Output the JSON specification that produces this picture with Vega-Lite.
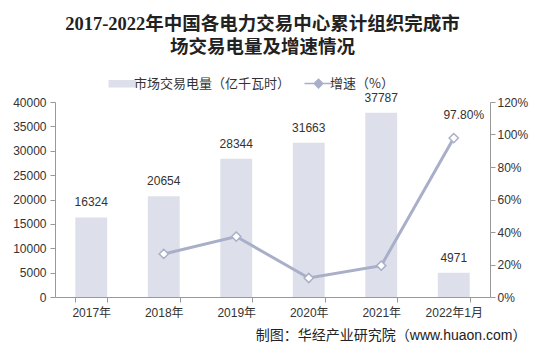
{
  "$schema": "https://vega.github.io/schema/vega-lite/v6.json",
  "width": 435,
  "height": 195,
  "autosize": "none",
  "padding": {"left": 55, "top": 102, "right": 46, "bottom": 57},
  "background": "white",
  "title": {
    "text": ["2017-2022年中国各电力交易中心累计组织完成市", "场交易电量及增速情况"],
    "font": "Liberation Serif, Noto Sans CJK SC",
    "fontSize": 18.5,
    "fontWeight": "bold",
    "color": "#222222",
    "lineHeight": 23,
    "anchor": "middle",
    "dx": -10,
    "offset": 21
  },
  "data": {
    "values": [
      {"year": "2017年", "volume": 16324, "growth": null, "glabel": ""},
      {"year": "2018年", "volume": 20654, "growth": 26.5, "glabel": ""},
      {"year": "2019年", "volume": 28344, "growth": 37.2, "glabel": ""},
      {"year": "2020年", "volume": 31663, "growth": 11.7, "glabel": ""},
      {"year": "2021年", "volume": 37787, "growth": 19.3, "glabel": ""},
      {"year": "2022年1月", "volume": 4971, "growth": 97.8, "glabel": "97.80%"}
    ]
  },
  "encoding": {
    "x": {
      "field": "year",
      "type": "nominal",
      "sort": null,
      "scale": {"paddingInner": 0.56, "paddingOuter": 0.28},
      "axis": {
        "title": "制图：华经产业研究院（www.huaon.com）",
        "titleFont": "Liberation Sans, Noto Sans CJK SC",
        "titleFontSize": 14,
        "titleFontWeight": "normal",
        "titleColor": "#222222",
        "titleAnchor": "end",
        "titleAlign": "right",
        "titleBaseline": "alphabetic",
        "titleX": 471,
        "titleY": 42,
        "labelAngle": 0,
        "labelFont": "Liberation Sans, Noto Sans CJK SC",
        "labelFontSize": 12,
        "labelColor": "#333333",
        "labelPadding": 5,
        "tickBand": "extent",
        "tickSize": 5,
        "tickColor": "#999999",
        "domainColor": "#999999"
      }
    }
  },
  "layer": [
    {
      "encoding": {
        "y": {
          "field": "volume",
          "type": "quantitative",
          "scale": {"domain": [0, 40000]},
          "axis": {
            "title": null,
            "orient": "left",
            "values": [0, 5000, 10000, 15000, 20000, 25000, 30000, 35000, 40000],
            "format": "d",
            "grid": false,
            "labelFont": "Liberation Sans",
            "labelFontSize": 12,
            "labelColor": "#333333",
            "labelPadding": 4,
            "tickSize": 5,
            "tickColor": "#999999",
            "domainColor": "#999999"
          }
        }
      },
      "layer": [
        {
          "mark": {"type": "bar"},
          "encoding": {
            "color": {
              "datum": "市场交易电量（亿千瓦时）",
              "type": "nominal",
              "scale": {
                "domain": ["市场交易电量（亿千瓦时）", "增速（%）"],
                "range": ["#DDE0EA", "#A9AFC8"]
              },
              "legend": {
                "title": null,
                "orient": "none",
                "direction": "horizontal",
                "legendX": 61,
                "legendY": -25,
                "padding": 0,
                "symbolSize": 784,
                "labelOffset": 5,
                "columnPadding": 10,
                "labelFont": "Noto Sans CJK SC",
                "labelFontSize": 13,
                "labelColor": "#333333",
                "symbolOpacity": 1,
                "encode": {
                  "symbols": {
                    "update": {
                      "shape": {"signal": "datum.value === '增速（%）' ? 'M-1,0H-0.3M0.3,0H1M0,-0.3L0.3,0L0,0.3L-0.3,0Z' : 'M-1,-0.27H1V0.27H-1Z'"},
                      "fill": {"signal": "datum.value === '增速（%）' ? '#ffffff' : '#DDE0EA'"},
                      "fillOpacity": {"value": 1},
                      "stroke": {"signal": "datum.value === '增速（%）' ? '#A9AFC8' : 'transparent'"},
                      "strokeWidth": {"signal": "datum.value === '增速（%）' ? 1.6 : 0"},
                      "opacity": {"value": 1}
                    }
                  }
                }
              }
            }
          }
        },
        {
          "mark": {
            "type": "text",
            "baseline": "alphabetic",
            "dy": -11,
            "font": "Liberation Sans",
            "fontSize": 12,
            "color": "#333333"
          },
          "encoding": {"text": {"field": "volume", "type": "quantitative", "format": "d"}}
        }
      ]
    },
    {
      "encoding": {
        "y": {
          "field": "growth",
          "type": "quantitative",
          "scale": {"domain": [0, 120]},
          "axis": {
            "title": null,
            "orient": "right",
            "values": [0, 20, 40, 60, 80, 100, 120],
            "labelExpr": "datum.value + '%'",
            "grid": false,
            "labelFont": "Liberation Sans",
            "labelFontSize": 12,
            "labelColor": "#333333",
            "labelPadding": 2,
            "tickSize": 5,
            "tickColor": "#999999",
            "domainColor": "#999999"
          }
        }
      },
      "layer": [
        {
          "mark": {"type": "line", "strokeWidth": 3},
          "encoding": {
            "color": {"datum": "增速（%）", "type": "nominal"}
          }
        },
        {
          "mark": {
            "type": "point",
            "shape": "diamond",
            "filled": true,
            "fill": "white",
            "stroke": "#A9AFC8",
            "strokeWidth": 1.5,
            "size": 85,
            "opacity": 1
          }
        },
        {
          "mark": {
            "type": "text",
            "baseline": "alphabetic",
            "dy": -19,
            "dx": 10,
            "font": "Liberation Sans",
            "fontSize": 12,
            "color": "#333333"
          },
          "encoding": {"text": {"field": "glabel", "type": "nominal"}}
        }
      ]
    }
  ],
  "resolve": {"scale": {"y": "independent"}},
  "config": {"view": {"stroke": null}}
}
